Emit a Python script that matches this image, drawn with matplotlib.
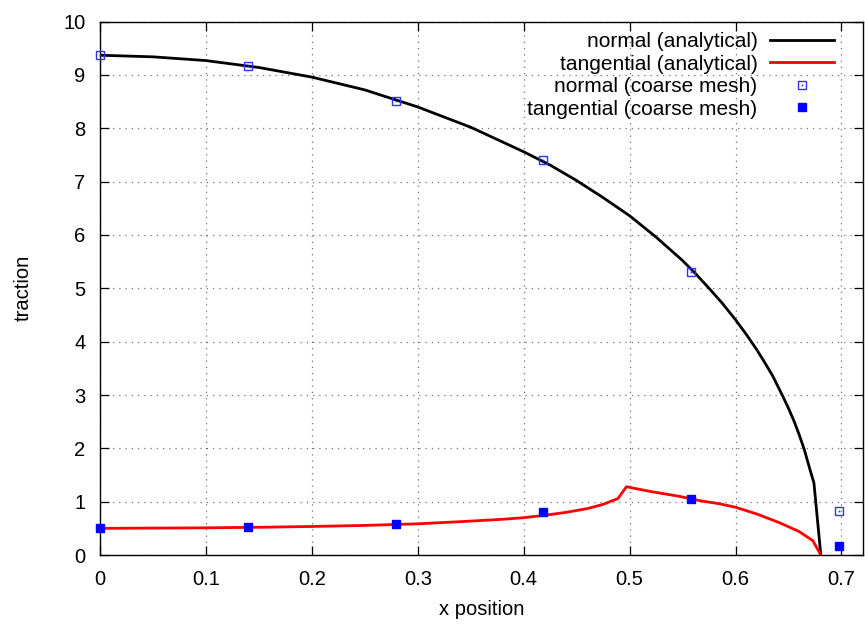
import matplotlib
matplotlib.use("Agg")
import matplotlib.pyplot as plt

plt.rcParams['font.family'] = ['Liberation Sans', 'DejaVu Sans']

# analytical curves
x_norm = [0, 0.05, 0.10, 0.15, 0.20, 0.25, 0.30, 0.35, 0.40, 0.425, 0.45, 0.475,
          0.50, 0.525, 0.55, 0.5625, 0.575, 0.5875, 0.60, 0.61, 0.62, 0.6275,
          0.635, 0.64, 0.645, 0.65, 0.655, 0.66, 0.665, 0.67, 0.674, 0.6805]
y_norm = [9.37, 9.34, 9.27, 9.14, 8.96, 8.72, 8.40, 8.02, 7.56, 7.31, 7.02, 6.70,
          6.36, 5.96, 5.52, 5.27, 5.00, 4.72, 4.41, 4.14, 3.85, 3.61,
          3.36, 3.16, 2.96, 2.75, 2.52, 2.26, 1.97, 1.62, 1.35, 0.0]

x_tang = [0, 0.05, 0.10, 0.15, 0.20, 0.25, 0.30, 0.34, 0.38, 0.40, 0.42, 0.44,
          0.46, 0.475, 0.489, 0.497, 0.52, 0.547, 0.566, 0.585, 0.60, 0.62,
          0.6415, 0.66, 0.673, 0.6805]
y_tang = [0.50, 0.505, 0.51, 0.52, 0.535, 0.555, 0.585, 0.625, 0.67, 0.70, 0.745,
          0.80, 0.87, 0.95, 1.06, 1.28, 1.19, 1.10, 1.02, 0.96, 0.895, 0.77,
          0.606, 0.44, 0.268, 0.0]

# coarse mesh results
x_mesh = [0, 0.1395, 0.279, 0.4185, 0.558, 0.6975]
y_mesh_norm = [9.37, 9.16, 8.52, 7.40, 5.30, 0.82]
y_mesh_tang = [0.50, 0.53, 0.59, 0.81, 1.05, 0.17]

fig = plt.figure(figsize=(8.65, 6.27), dpi=100)
ax = fig.add_axes([0.1156, 0.1148, 0.9973 - 0.1156, 0.9655 - 0.1148])

ln1, = ax.plot(x_norm, y_norm, color='black', lw=2.0, zorder=3)
ln2, = ax.plot(x_tang, y_tang, color='#ff0000', lw=2.0, zorder=3)
sq, = ax.plot(x_mesh, y_mesh_norm, ls='none', marker='s', ms=6, mfc='none',
              mec='#3030ff', mew=1.0, zorder=4, clip_on=False)
dot, = ax.plot(x_mesh, y_mesh_norm, ls='none', marker='s', ms=1.2, mfc='#3030ff',
               mec='none', zorder=4, clip_on=False)
fs, = ax.plot(x_mesh, y_mesh_tang, ls='none', marker='s', ms=5.6, mfc='#0000ff',
              mec='#0000ff', zorder=4, clip_on=False)

ax.set_xlim(0, 0.72)
ax.set_ylim(0, 10)
ax.set_xticks([0, 0.1, 0.2, 0.3, 0.4, 0.5, 0.6, 0.7])
ax.set_xticklabels(['0', '0.1', '0.2', '0.3', '0.4', '0.5', '0.6', '0.7'])
ax.set_yticks(range(0, 11))

ax.grid(True, color='0.45', ls=(0, (1, 4)), lw=0.9)
ax.tick_params(direction='in', length=6.5, width=0.9, top=True, right=True,
               labelsize=14.5, colors='black')
ax.tick_params(axis='x', pad=10.5)
ax.tick_params(axis='y', pad=10.5)
for s in ax.spines.values():
    s.set_linewidth(1.0)

ax.set_xlabel('x position', fontsize=14.5, labelpad=8.5)
ax.set_ylabel('traction', fontsize=14.5, labelpad=22)

ax.legend([ln1, ln2, (sq, dot), fs],
          ['normal (analytical)', 'tangential (analytical)',
           'normal (coarse mesh)', 'tangential (coarse mesh)'],
          loc='upper right', bbox_to_anchor=(0.9755, 1.0), frameon=False,
          markerfirst=False, handlelength=3.03, handletextpad=0.62,
          labelspacing=0.17, fontsize=15, borderpad=0, numpoints=1)

fig.savefig('out.png', dpi=100)
